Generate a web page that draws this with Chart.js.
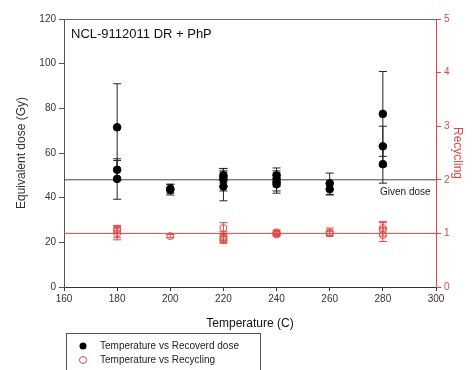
<!DOCTYPE html>
<html>
<head>
<meta charset="utf-8">
<script src="https://cdn.jsdelivr.net/npm/chart.js@4"></script>
<style>
  html, body { margin: 0; padding: 0; background: #fff; }
  #wrap { width: 475px; height: 370px; position: relative; }
</style>
</head>
<body>
<div id="wrap"><canvas id="myChart"></canvas></div>
<script>
// temperatures and recovered dose (Gy) with error bar ends
const doseT  = [180, 180, 180, 200, 200, 220, 220, 220, 220, 240, 240, 240, 240, 260, 260, 280, 280, 280];
const doseV  = [71.5, 52.5, 48.4, 43.5, 44, 50, 48, 45, 49, 50, 48.5, 47, 46, 46.4, 43.8, 77.5, 63, 55];
const doseLo = [52, 47.7, 39.3, 41.2, 42, 46.5, 43, 38.6, 45, 47, 45, 43, 42, 41.5, 41.2, 58.5, 54, 46.5];
const doseHi = [91, 57.4, 56.6, 46, 46, 53.1, 52, 51.4, 53, 53.3, 52, 51, 50, 51, 46.4, 96.5, 72, 63.5];

// recycling ratio with error bar ends
const recT  = [180, 180, 180, 200, 220, 220, 220, 220, 240, 240, 240, 260, 260, 280, 280, 280];
const recV  = [1.05, 1.0, 1.08, 0.95, 1.1, 0.95, 0.9, 0.88, 1.0, 1.02, 0.98, 1.02, 1.0, 1.06, 0.97, 1.1];
const recLo = [0.92, 0.88, 1.0, 0.92, 1.0, 0.87, 0.82, 0.82, 0.96, 0.98, 0.95, 0.95, 0.96, 0.95, 0.85, 1.0];
const recHi = [1.15, 1.1, 1.13, 0.98, 1.2, 1.03, 0.98, 0.94, 1.04, 1.06, 1.01, 1.1, 1.04, 1.22, 1.1, 1.2];

const givenDose = 48;
const recRef = 1;
const xRange = [160, 300];

const RED = '#e04848';
const FONT = "'Liberation Sans', Arial, sans-serif";

const errorBars = {
  id: 'errorBars',
  beforeDatasetsDraw(chart) {
    const ctx = chart.ctx;
    const xs = chart.scales.x;
    const draw = (ts, lo, hi, scale, color) => {
      ctx.save();
      ctx.strokeStyle = color;
      ctx.lineWidth = 1;
      for (let i = 0; i < ts.length; i++) {
        const px = xs.getPixelForValue(ts[i]);
        const y1 = scale.getPixelForValue(lo[i]);
        const y2 = scale.getPixelForValue(hi[i]);
        ctx.beginPath();
        ctx.moveTo(px, y1); ctx.lineTo(px, y2);
        ctx.moveTo(px - 4, y1); ctx.lineTo(px + 4, y1);
        ctx.moveTo(px - 4, y2); ctx.lineTo(px + 4, y2);
        ctx.stroke();
      }
      ctx.restore();
    };
    draw(recT, recLo, recHi, chart.scales.y1, RED);
    draw(doseT, doseLo, doseHi, chart.scales.y, '#222');
  },
  afterDraw(chart) {
    const ctx = chart.ctx;
    const a = chart.chartArea;
    ctx.save();
    // top frame line
    ctx.strokeStyle = '#666';
    ctx.lineWidth = 1;
    ctx.beginPath();
    ctx.moveTo(a.left, a.top + 0.5); ctx.lineTo(a.right, a.top + 0.5);
    ctx.stroke();
    // title in the plot
    ctx.fillStyle = '#111';
    ctx.font = '13px ' + FONT;
    ctx.textBaseline = 'middle';
    ctx.fillText('NCL-9112011 DR + PhP', a.left + 7, 34);
    // given dose label
    ctx.font = '10px ' + FONT;
    ctx.fillStyle = '#222';
    ctx.fillText('Given dose', 380, 192);
    // legend box
    ctx.strokeStyle = '#555';
    ctx.strokeRect(66.5, 333.5, 194, 45);
    ctx.fillStyle = '#000';
    ctx.beginPath(); ctx.arc(83, 346, 3.5, 0, Math.PI * 2); ctx.fill();
    ctx.strokeStyle = RED;
    ctx.beginPath(); ctx.arc(83, 360, 3.5, 0, Math.PI * 2); ctx.stroke();
    ctx.fillStyle = '#222';
    ctx.font = '10px ' + FONT;
    ctx.fillText('Temperature vs Recoverd dose', 100, 346);
    ctx.fillText('Temperature vs Recycling', 100, 360);
    ctx.restore();
  }
};

new Chart('myChart', {
  type: 'scatter',
  data: {
    datasets: [
      {
        type: 'line', data: xRange.map(x => ({ x, y: givenDose })), yAxisID: 'y',
        borderColor: '#444', borderWidth: 1, pointRadius: 0, order: 5
      },
      {
        type: 'line', data: xRange.map(x => ({ x, y: recRef })), yAxisID: 'y1',
        borderColor: RED, borderWidth: 1, pointRadius: 0, order: 5
      },
      {
        label: 'Temperature vs Recycling', yAxisID: 'y1',
        data: recT.map((t, i) => ({ x: t, y: recV[i] })),
        pointRadius: 3.5, pointBorderColor: RED, pointBackgroundColor: 'rgba(0,0,0,0)',
        pointBorderWidth: 1, order: 2
      },
      {
        label: 'Temperature vs Recoverd dose', yAxisID: 'y',
        data: doseT.map((t, i) => ({ x: t, y: doseV[i] })),
        pointRadius: 3.8, pointBorderColor: '#000', pointBackgroundColor: '#000', order: 1
      }
    ]
  },
  options: {
    responsive: true,
    maintainAspectRatio: false,
    animation: false,
    layout: { padding: { top: 19, bottom: 35, left: 14, right: 10 } },
    plugins: { legend: { display: false }, tooltip: { enabled: false } },
    scales: {
      x: {
        type: 'linear', min: 160, max: 300,
        ticks: { stepSize: 20, color: '#333', font: { family: FONT, size: 10 }, padding: 2 },
        grid: { display: true, drawOnChartArea: false, tickLength: 4, color: '#333' },
        border: { color: '#333' },
        title: { display: true, text: 'Temperature (C)', color: '#111', font: { family: FONT, size: 12 }, padding: { top: 6 } },
        afterFit(s) { s.height = 48; }
      },
      y: {
        position: 'left', min: 0, max: 120,
        ticks: { stepSize: 20, color: '#333', font: { family: FONT, size: 10 }, padding: 3 },
        grid: { display: true, drawOnChartArea: false, tickLength: 5, color: '#555' },
        border: { color: '#555' },
        title: { display: true, text: 'Equivalent dose (Gy)', color: '#333', font: { family: FONT, size: 12 }, padding: 0 },
        afterFit(s) { s.width = 50; }
      },
      y1: {
        position: 'right', min: 0, max: 5,
        ticks: { stepSize: 1, color: RED, font: { family: FONT, size: 10 }, padding: 3 },
        grid: { display: true, drawOnChartArea: false, tickLength: 5, color: RED },
        border: { color: RED },
        title: { display: true, text: 'Recycling', color: RED, font: { family: FONT, size: 12 }, padding: 0 },
        afterFit(s) { s.width = 29; }
      }
    }
  },
  plugins: [errorBars]
});
</script>
</body>
</html>
